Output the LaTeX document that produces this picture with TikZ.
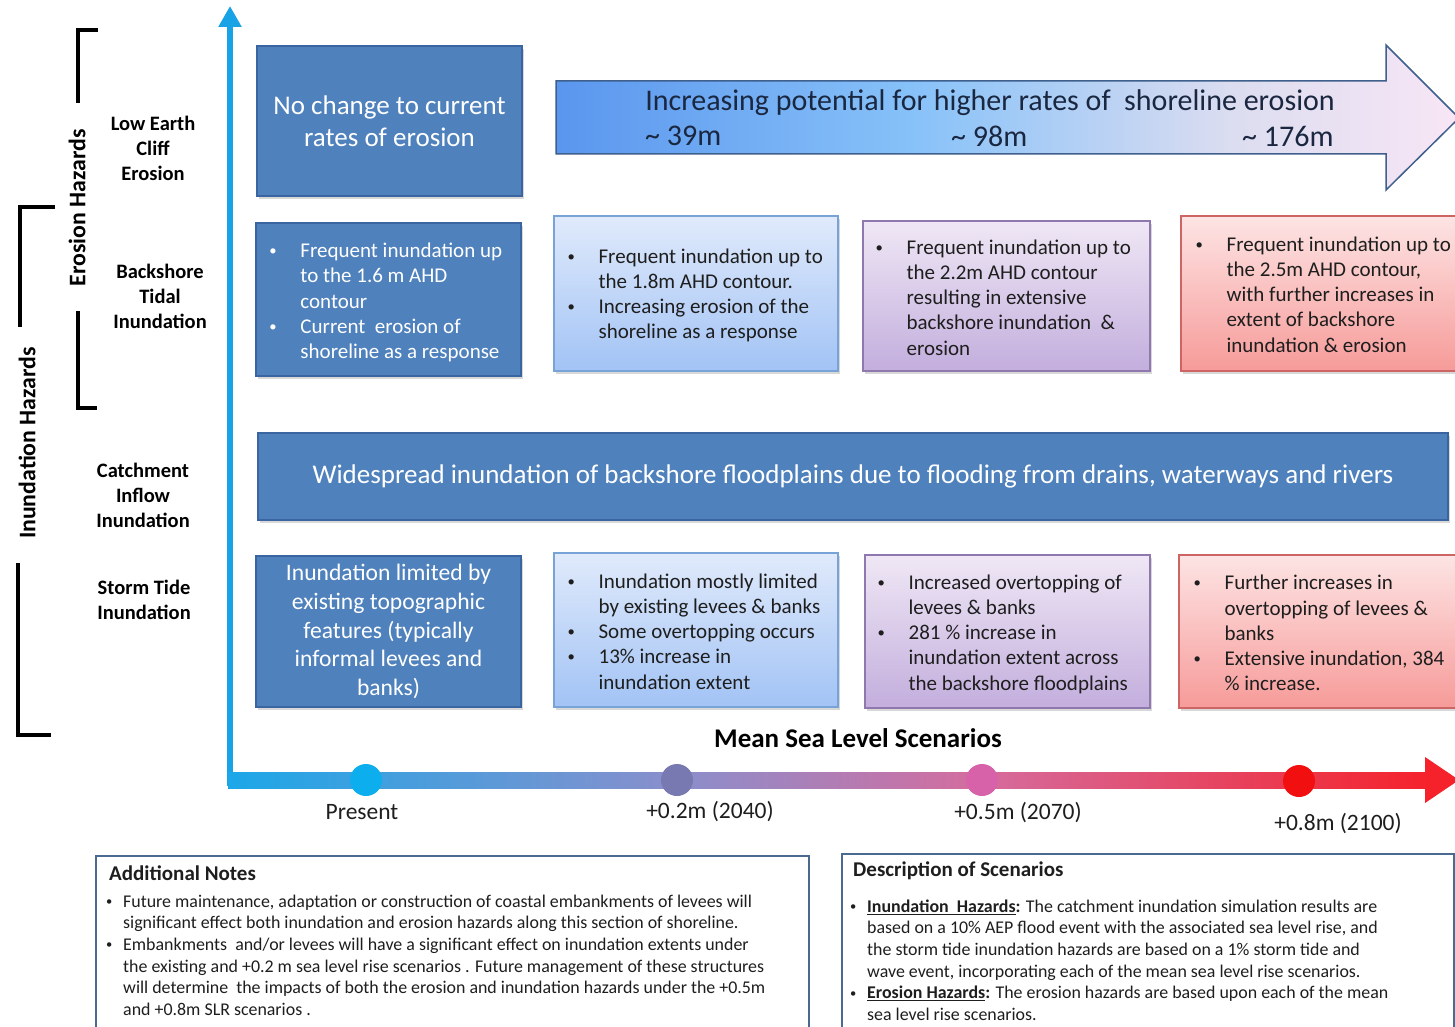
\documentclass[tikz,border=0pt]{standalone}
\usepackage{fontspec}
\usepackage{graphicx}
\setmainfont{Carlito}
\usetikzlibrary{arrows.meta,shadows}
\definecolor{dblue}{HTML}{4F81BD}
\definecolor{dborder}{HTML}{3A65A0}
\definecolor{lbtop}{HTML}{E0EAFB}
\definecolor{lbbot}{HTML}{A2C3F5}
\definecolor{lbdraw}{HTML}{77A3D6}
\definecolor{putop}{HTML}{EFE7F5}
\definecolor{pubot}{HTML}{C3AEDD}
\definecolor{pudraw}{HTML}{8E78AE}
\definecolor{retop}{HTML}{FDE4E4}
\definecolor{rebot}{HTML}{F69B99}
\definecolor{redraw}{HTML}{CE6565}
\definecolor{axcyan}{HTML}{17A3E6}
\definecolor{txt}{HTML}{1E1E1E}
\definecolor{arrtxt}{HTML}{1A2740}
\definecolor{arrdraw}{HTML}{3F5F8C}
\definecolor{aa}{HTML}{5A96EE}
\definecolor{ab}{HTML}{88C2F9}
\definecolor{ac}{HTML}{DCDDF0}
\definecolor{ad}{HTML}{F8E6F5}
\definecolor{noteline}{HTML}{4A6A92}
\definecolor{sa}{HTML}{1CA7E8}
\definecolor{sb}{HTML}{8A8FCC}
\definecolor{sc}{HTML}{D56C9E}
\definecolor{sd}{HTML}{F5222B}
\definecolor{ca}{HTML}{0DAEEE}
\definecolor{cb}{HTML}{7879B0}
\definecolor{cc}{HTML}{D762A9}
\definecolor{cd}{HTML}{F20F0F}
\pgfdeclarehorizontalshading{mslshade}{100bp}{color(0bp)=(sa); color(25bp)=(sa); color(43.65bp)=(sb); color(56.35bp)=(sc); color(75bp)=(sd); color(100bp)=(sd)}
\pgfdeclarehorizontalshading{arrshade}{100bp}{color(0bp)=(aa); color(25bp)=(aa); color(45bp)=(ab); color(62.5bp)=(ac); color(75bp)=(ad); color(100bp)=(ad)}
\newcommand{\bul}{\makebox[31pt][l]{\raisebox{0.1em}{\scalebox{0.7}{•}}}}
\newcommand{\ind}{\hspace*{31pt}}
\newcommand{\nbul}{\makebox[17pt][l]{\raisebox{0.1em}{\scalebox{0.7}{•}}}}
\newcommand{\nind}{\hspace*{17pt}}
\tikzset{
  shad/.style={drop shadow={opacity=0.3, shadow xshift=1.5pt, shadow yshift=-3pt}},
  dbox/.style={draw=dborder, fill=dblue, line width=1.5pt, text=white, inner sep=0pt, shad},
  lbox/.style={draw=lbdraw, top color=lbtop, bottom color=lbbot, line width=1.2pt, inner sep=0pt, shad},
  pbox/.style={draw=pudraw, top color=putop, bottom color=pubot, line width=1.2pt, inner sep=0pt, shad},
  rbox/.style={draw=redraw, top color=retop, bottom color=rebot, line width=1.2pt, inner sep=0pt, shad},
  btxt/.style={align=left, text=txt, font=\fontsize{21}{25.2}\selectfont, inner sep=0pt, anchor=west},
  wtxt/.style={btxt, text=white},
  lab/.style={align=center, font=\bfseries\fontsize{20.5}{25}\selectfont, text=black, inner sep=0pt},
  hz/.style={rotate=90, font=\bfseries\fontsize{23.8}{28}\selectfont, inner sep=0pt},
  brk/.style={line width=4pt, black},
  dot/.style={circle, minimum size=32pt, inner sep=0pt},
  scen/.style={font=\fontsize{23.5}{28}\selectfont, text=txt, inner sep=0pt},
  notebox/.style={draw=noteline, line width=2pt, fill=white, inner sep=0pt},
  ntitle/.style={font=\bfseries\fontsize{21}{25}\selectfont, text=txt, inner sep=0pt, anchor=west},
  ntxt/.style={align=left, font=\fontsize{17.9}{21.6}\selectfont, text=txt, inner sep=0pt, anchor=north west},
  arrt/.style={font=\fontsize{30}{35}\selectfont, text=arrtxt, inner sep=0pt}
}
\begin{document}
\begin{tikzpicture}[x=1pt,y=-1pt]
\useasboundingbox (0,0) rectangle (1455,1027);
\fill[white] (0,0) rectangle (1455,1027);

% brackets and hazard titles
\draw[brk] (98,30) -- (78,30) -- (78,103);
\draw[brk] (78,311) -- (78,408) -- (97,408);
\node[hz] (eh) at (77,208) {Erosion Hazards};
\draw[brk] (55,207) -- (20,207) -- (20,327);
\draw[brk] (18,563) -- (18,735) -- (51,735);
\node[hz] (ih) at (27,443) {Inundation Hazards};

% row labels
\node[lab] (lec) at (153,148) {Low Earth\\Cliff\\Erosion};
\node[lab] (bti) at (160,296) {Backshore\\Tidal\\Inundation};
\node[lab] (cii) at (143,495) {Catchment\\Inflow\\Inundation};
\node[lab] (sti) at (144,600) {Storm Tide\\Inundation};

% vertical axis
\coordinate (org) at (230,786);
\coordinate (ytip) at (230,6);
\draw[axcyan, line width=6pt, -{Triangle[length=21pt,width=22pt]}] (org) -- (ytip);

% horizontal axis
\shade[shading=mslshade] (228,772) rectangle (1428,788);
\fill[sd] (1425,757) -- (1459,780) -- (1425,803) -- cycle;
\node[dot, fill=ca] (p0) at (366,780) {};
\node[dot, fill=cb] (p1) at (677,780) {};
\node[dot, fill=cc] (p2) at (982,780) {};
\node[dot, fill=cd] (p3) at (1299,781) {};
\node[scen] (l0) at (362,812) {Present};
\node[scen] (l1) at (710,812) {+0.2m (2040)};
\node[scen] (l2) at (1018,813) {+0.5m (2070)};
\node[scen] (l3) at (1338,824) {+0.8m (2100)};
\node[font=\bfseries\fontsize{27}{32}\selectfont, text=black, inner sep=0pt] (msl) at (858,738) {Mean Sea Level Scenarios};

% row 1
\node[dbox, minimum width=265pt, minimum height=150pt, align=center, font=\fontsize{27}{32}\selectfont] (nochange) at (389.5,121) {No change to current\\rates of erosion};
\shade[shading=arrshade]
  (556,81) -- (1386,81) -- (1386,45) -- (1459,118) -- (1386,190) -- (1386,154) -- (556,154) -- cycle;
\draw[arrdraw, line width=1.5pt]
  (556,81) -- (1386,81) -- (1386,45) -- (1459,118) -- (1386,190) -- (1386,154) -- (556,154) -- cycle;
\node[arrt] (arrtitle) at (990,102.5) {Increasing potential for higher rates of\ \ shoreline erosion};
\node[arrt, anchor=west] (v1) at (645,136) {\textasciitilde\ 39m};
\node[arrt, anchor=west] (v2) at (951,136) {\textasciitilde\ 98m};
\node[arrt, anchor=west] (v3) at (1242,136) {\textasciitilde\ 176m};

% row 2
\node[dbox, minimum width=265pt, minimum height=153pt] (tA) at (388.5,299.5) {};
\node[wtxt] (tAt) at ([xshift=14pt,yshift=-3pt]tA.west) {\bul Frequent inundation up\\\ind to the 1.6 m AHD\\\ind contour\\\bul Current\ \ erosion of\\\ind shoreline as a response};
\node[lbox, minimum width=284pt, minimum height=155pt] (tB) at (696,293.5) {};
\node[btxt] (tBt) at ([xshift=14pt,yshift=-2pt]tB.west) {\bul Frequent inundation up to\\\ind the 1.8m AHD contour.\\\bul Increasing erosion of the\\\ind shoreline as a response};
\node[pbox, minimum width=287pt, minimum height=150pt] (tC) at (1006.5,296) {};
\node[btxt] (tCt) at ([xshift=13pt,yshift=-1.5pt]tC.west) {\bul Frequent inundation up to\\\ind the 2.2m AHD contour\\\ind resulting in extensive\\\ind backshore inundation\ \ \&\\\ind erosion};
\node[rbox, minimum width=290pt, minimum height=155pt] (tD) at (1326,293.5) {};
\node[btxt] (tDt) at ([xshift=15pt,yshift=-1pt]tD.west) {\bul Frequent inundation up to\\\ind the 2.5m AHD contour,\\\ind with further increases in\\\ind extent of backshore\\\ind inundation \& erosion};

% row 3
\node[dbox, minimum width=1190pt, minimum height=87pt, font=\fontsize{27}{32}\selectfont] (catch) at (853,476.5) {Widespread inundation of backshore floodplains due to flooding from drains, waterways and rivers};

% row 4
\node[dbox, minimum width=265pt, minimum height=151pt, align=center, font=\fontsize{23.6}{28.75}\selectfont] (sA) at (388.5,631.5) {Inundation limited by\\existing topographic\\features (typically\\informal levees and\\banks)};
\node[lbox, minimum width=284pt, minimum height=154pt] (sB) at (696,630) {};
\node[btxt] (sBt) at ([xshift=14pt,yshift=-1.5pt]sB.west) {\bul Inundation mostly limited\\\ind by existing levees \& banks\\\bul Some overtopping occurs\\\bul 13\% increase in\\\ind inundation extent};
\node[pbox, minimum width=285pt, minimum height=153pt] (sC) at (1007.5,631.5) {};
\node[btxt] (sCt) at ([xshift=13pt,yshift=-2.5pt]sC.west) {\bul Increased overtopping of\\\ind levees \& banks\\\bul 281 \% increase in\\\ind inundation extent across\\\ind the backshore floodplains};
\node[rbox, minimum width=290pt, minimum height=153pt] (sD) at (1324,631.5) {};
\node[btxt] (sDt) at ([xshift=15pt,yshift=-1.5pt]sD.west) {\bul Further increases in\\\ind overtopping of levees \&\\\ind banks\\\bul Extensive inundation, 384\\\ind \% increase.};

% notes
\node[notebox, minimum width=713pt, minimum height=190pt, anchor=north west] (notes) at (95,855) {};
\node[ntitle] (notest) at (109,873) {Additional Notes};
\node[ntxt] (notesb) at (106,894.6) {\nbul Future maintenance, adaptation or construction of coastal embankments of levees will\\\nind significant effect both inundation and erosion hazards along this section of shoreline.\\\nbul Embankments\ \ and/or levees will have a significant effect on inundation extents under\\\nind the existing and +0.2 m sea level rise scenarios . Future management of these structures\\\nind will determine\ \ the impacts of both the erosion and inundation hazards under the +0.5m\\\nind and +0.8m SLR scenarios .};
\node[notebox, minimum width=612pt, minimum height=190pt, anchor=north west] (desc) at (841,853) {};
\node[ntitle] (desct) at (853,871) {Description of Scenarios};
\node[ntxt] (descb) at (850,899.6) {\nbul \underline{\textbf{Inundation\ \ Hazards}}\textbf{:} The catchment inundation simulation results are\\\nind based on a 10\% AEP flood event with the associated sea level rise, and\\\nind the storm tide inundation hazards are based on a 1\% storm tide and\\\nind wave event, incorporating each of the mean sea level rise scenarios.\\\nbul \underline{\textbf{Erosion Hazards}}\textbf{:} The erosion hazards are based upon each of the mean\\\nind sea level rise scenarios.};
\end{tikzpicture}
\end{document}
